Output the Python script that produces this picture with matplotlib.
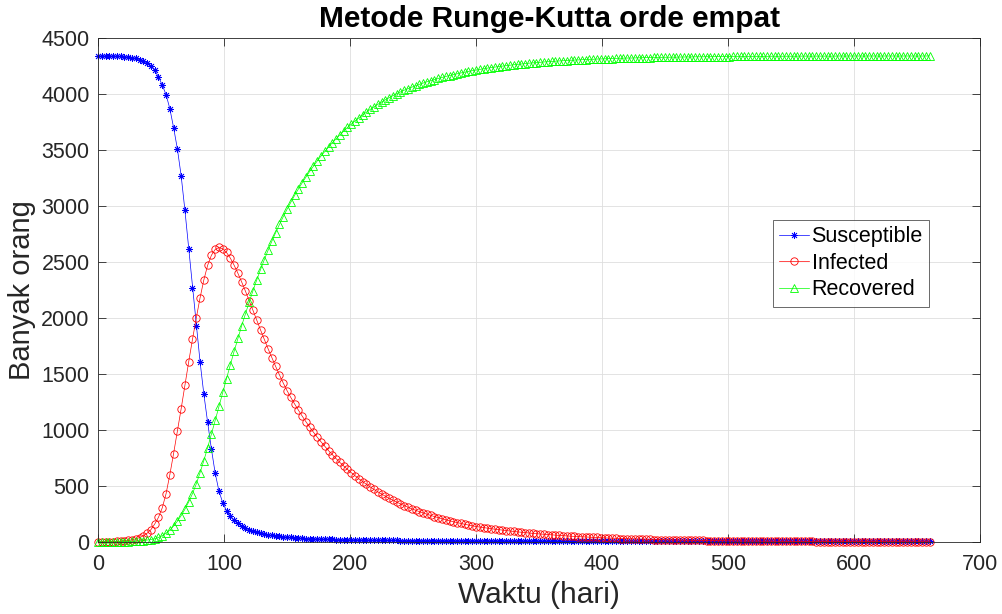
import numpy as np
import matplotlib
matplotlib.use("Agg")
import matplotlib.pyplot as plt

# SIR hasil Runge-Kutta orde 4 (satu titik tiap 3 hari)
days = np.arange(0, 661, 3)

susceptible = [
    4339, 4339, 4339, 4338, 4338, 4337, 4335, 4333, 4330, 4325,   # 0-27
    4318, 4308, 4295, 4278, 4250, 4210, 4155, 4080, 3995, 3870,   # 30-57
    3700, 3510, 3270, 2960, 2620, 2270, 1930, 1610, 1320, 1070,   # 60-87
    830, 615, 455, 350, 280, 228, 192, 165, 143, 125,             # 90-117
    110, 98, 87, 78, 70, 63, 58, 53, 49, 46,                      # 120-147
    43, 40, 37.5, 35, 33, 31, 29.5, 28, 26.5, 25.5,               # 150-177
    24.5, 23.5, 22.5, 21.5, 20.7, 20, 19.3, 18.6, 18, 17.4,       # 180-207
    16.9, 16.4, 15.9, 15.5, 15.1, 14.7, 14.3, 14, 13.7, 13.4,     # 210-237
    13.1, 12.9, 12.6, 12.4, 12.2, 12, 11.8, 11.6, 11.4, 11.3,     # 240-267
    11.1, 11, 10.8, 10.7, 10.6, 10.5, 10.4, 10.3, 10.2, 10.1,     # 270-297
    10, 9.9, 9.8, 9.8, 9.7, 9.6, 9.6, 9.5, 9.4, 9.4,              # 300-327
    9.3, 9.3, 9.2, 9.2, 9.1, 9.1, 9.0, 9.0, 9.0, 8.9,             # 330-357
    8.9, 8.9, 8.8, 8.8, 8.8, 8.8, 8.7, 8.7, 8.7, 8.7,             # 360-387
    8.6, 8.6, 8.6, 8.6, 8.6, 8.6, 8.5, 8.5, 8.5, 8.5,             # 390-417
    8.5, 8.5, 8.5, 8.5, 8.5, 8.5, 8.5, 8.5, 8.5, 8.5,             # 420-447
    8.5, 8.5, 8.5, 8.5, 8.5, 8.4, 8.4, 8.4, 8.4, 8.4,             # 450-477
    8.4, 8.4, 8.4, 8.4, 8.4, 8.4, 8.4, 8.4, 8.4, 8.4,             # 480-507
    8.4, 8.4, 8.4, 8.4, 8.4, 8.4, 8.4, 8.4, 8.4, 8.4,             # 510-537
    8.4, 8.4, 8.4, 8.4, 8.4, 8.4, 8.4, 8.4, 8.4, 8.4,             # 540-567
    8.4, 8.4, 8.4, 8.4, 8.4, 8.4, 8.4, 8.4, 8.4, 8.4,             # 570-597
    8.4, 8.4, 8.4, 8.4, 8.4, 8.4, 8.4, 8.4, 8.4, 8.4,             # 600-627
    8.4, 8.4, 8.4, 8.4, 8.4, 8.4, 8.4, 8.4, 8.4, 8.4,             # 630-657
    8.4,                                                          # 660
]

infected = [
    1, 1.3, 1.8, 2.6, 3.6, 5, 7, 10, 14, 20,                      # 0-27
    28, 39, 55, 78, 110, 160, 220, 305, 430, 600,                 # 30-57
    790, 990, 1190, 1400, 1610, 1810, 2000, 2180, 2340, 2470,     # 60-87
    2560, 2612, 2630, 2618, 2585, 2535, 2472, 2400, 2322, 2240,   # 90-117
    2155, 2068, 1980, 1893, 1808, 1725, 1645, 1567, 1492, 1420,   # 120-147
    1352, 1291, 1233, 1178, 1125, 1074, 1026, 980, 936, 894,      # 150-177
    854, 815, 779, 744, 710, 678, 648, 619, 591, 564,             # 180-207
    539, 515, 491, 469, 448, 428, 409, 390, 373, 356,             # 210-237
    340, 325, 310, 296, 283, 271, 259, 248, 237, 227,             # 240-267
    217, 207, 198, 189, 181, 173, 165, 158, 151, 144,             # 270-297
    138, 133, 128, 123, 118, 114, 110, 106, 102, 98,              # 300-327
    94, 90, 87, 84, 80, 77, 74, 71, 69, 66,                       # 330-357
    64, 61, 59, 57, 54, 52, 50, 48, 46, 45,                       # 360-387
    43, 41, 40, 38, 37, 35, 34, 33, 31, 30,                       # 390-417
    29, 28, 27, 26, 25, 24, 23, 22, 21, 20,                       # 420-447
    19.5, 18.8, 18.1, 17.4, 16.7, 16.1, 15.5, 14.9, 14.3, 13.8,   # 450-477
    13.2, 12.7, 12.2, 11.8, 11.3, 10.9, 10.5, 10.1, 9.7, 9.3,     # 480-507
    9.0, 8.6, 8.3, 8.0, 7.7, 7.4, 7.1, 6.8, 6.6, 6.3,             # 510-537
    6.1, 5.9, 5.6, 5.4, 5.2, 5.0, 4.8, 4.6, 4.5, 4.3,             # 540-567
    4.1, 4.0, 3.8, 3.7, 3.5, 3.4, 3.3, 3.1, 3.0, 2.9,             # 570-597
    2.8, 2.7, 2.6, 2.5, 2.4, 2.3, 2.2, 2.1, 2.0, 1.9,             # 600-627
    1.9, 1.8, 1.7, 1.7, 1.6, 1.5, 1.5, 1.4, 1.4, 1.3,             # 630-657
    1.3,                                                          # 660
]

recovered = [
    0, 0.1, 0.3, 0.5, 0.8, 1.2, 1.8, 2.6, 3.6, 5,                 # 0-27
    7, 9.5, 13, 17, 22, 28, 40, 56, 78, 106,                      # 30-57
    142, 185, 235, 293, 358, 432, 519, 619, 727, 842,             # 60-87
    962, 1085, 1210, 1335, 1459, 1581, 1701, 1817, 1930, 2038,    # 90-117
    2143, 2244, 2340, 2433, 2521, 2605, 2686, 2762, 2835, 2904,   # 120-147
    2970, 3033, 3094, 3151, 3206, 3258, 3309, 3356, 3402, 3446,   # 150-177
    3487, 3527, 3565, 3601, 3636, 3669, 3701, 3731, 3760, 3787,   # 180-207
    3813, 3838, 3862, 3885, 3907, 3928, 3948, 3967, 3985, 4003,   # 210-237
    4019, 4034, 4048, 4061, 4074, 4086, 4098, 4109, 4119, 4129,   # 240-267
    4139, 4148, 4157, 4165, 4173, 4181, 4188, 4195, 4202, 4208,   # 270-297
    4214, 4220, 4225, 4231, 4236, 4240, 4245, 4249, 4253, 4257,   # 300-327
    4261, 4265, 4268, 4271, 4275, 4278, 4280, 4283, 4286, 4288,   # 330-357
    4291, 4293, 4295, 4297, 4299, 4301, 4303, 4304, 4306, 4308,   # 360-387
    4309, 4310, 4312, 4313, 4314, 4316, 4317, 4318, 4319, 4320,   # 390-417
    4321, 4321, 4322, 4323, 4324, 4325, 4325, 4326, 4327, 4327,   # 420-447
    4328, 4328, 4329, 4329, 4330, 4330, 4331, 4331, 4332, 4332,   # 450-477
    4332, 4333, 4333, 4333, 4334, 4334, 4334, 4334, 4335, 4335,   # 480-507
    4335, 4335, 4336, 4336, 4336, 4336, 4336, 4336, 4337, 4337,   # 510-537
    4337, 4337, 4337, 4337, 4337, 4338, 4338, 4338, 4338, 4338,   # 540-567
    4338, 4338, 4338, 4338, 4338, 4338, 4339, 4339, 4339, 4339,   # 570-597
    4339, 4339, 4339, 4339, 4339, 4339, 4339, 4339, 4339, 4339,   # 600-627
    4339, 4339, 4339, 4339, 4339, 4339, 4339, 4339, 4339, 4339,   # 630-657
    4340,                                                         # 660
]

series_labels = ["Susceptible", "Infected", "Recovered"]

x_ticks = [0, 100, 200, 300, 400, 500, 600, 700]
y_ticks = [0, 500, 1000, 1500, 2000, 2500, 3000, 3500, 4000, 4500]

DARK = "#262626"


def main() -> None:
    plt.rcParams["font.family"] = ["Liberation Sans", "DejaVu Sans"]

    fig = plt.figure(figsize=(10.03, 6.14), dpi=100)
    ax = fig.add_axes([0.0977, 0.1173, 0.8794, 0.8208])

    ax.plot(days, susceptible, color=(0, 0, 1), lw=0.5, marker=(8, 2, 0),
            ms=5, mew=0.6, label=series_labels[0], clip_on=False)
    ax.plot(days, infected, color=(1, 0, 0), lw=0.5, marker="o", ms=5.3,
            mfc="none", mew=0.6, label=series_labels[1], clip_on=False)
    ax.plot(days, recovered, color=(0, 1, 0), lw=0.5, marker="^", ms=5.3,
            mfc="none", mew=0.6, label=series_labels[2], clip_on=False)

    ax.set_xlim(0, 700)
    ax.set_ylim(0, 4500)
    ax.set_xticks(x_ticks)
    ax.set_yticks(y_ticks)

    ax.grid(True, color="#dedede", lw=0.6)
    ax.set_axisbelow(True)
    for sp in ax.spines.values():
        sp.set_color(DARK)
        sp.set_linewidth(0.6)
    ax.tick_params(direction="in", length=6, width=0.6, colors=DARK,
                   labelsize=15.5, top=True, right=True)
    ax.tick_params(axis="x", pad=9)
    ax.tick_params(axis="y", pad=6)

    ax.set_xlabel("Waktu (hari)", fontsize=21.5, color=DARK, labelpad=4)
    ax.set_ylabel("Banyak orang", fontsize=21, color=DARK, labelpad=4)
    ax.set_title("Metode Runge-Kutta orde empat", fontsize=21.5,
                 fontweight="bold", pad=8, x=0.512)

    leg = ax.legend(loc="upper left", bbox_to_anchor=(0.765, 0.639),
                    fontsize=15.5, frameon=True, fancybox=False,
                    borderaxespad=0, borderpad=0.3, labelspacing=0.25,
                    handlelength=1.4, handletextpad=0.1)
    leg.get_frame().set_edgecolor(DARK)
    leg.get_frame().set_linewidth(0.6)

    fig.savefig("out.png", dpi=100)
    plt.close(fig)


if __name__ == "__main__":
    main()
